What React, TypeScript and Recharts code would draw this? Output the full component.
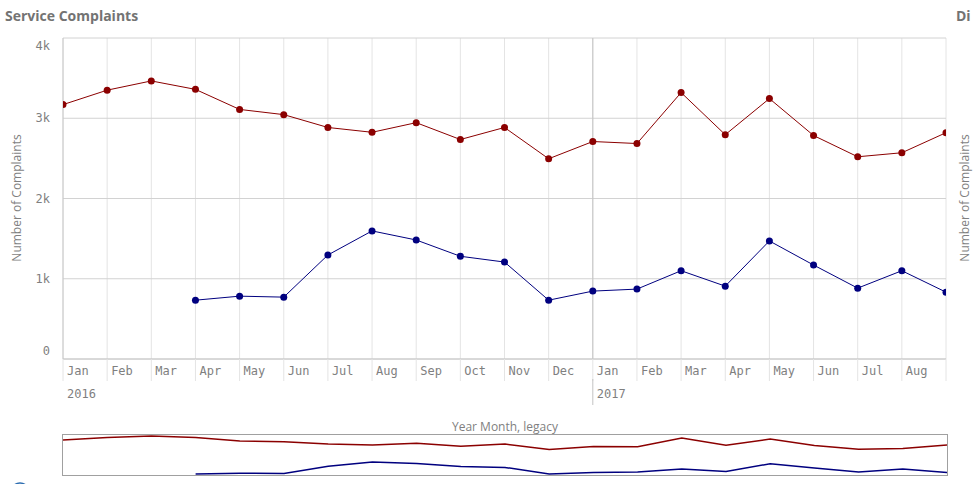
import React from "react";
import { LineChart, Line, XAxis, YAxis, CartesianGrid, ReferenceLine } from "recharts";

// Jan 2016 .. Sep 2017 (Sep has no label, it sits on the right edge)
const MONTHS = [
  "Jan", "Feb", "Mar", "Apr", "May", "Jun", "Jul", "Aug", "Sep", "Oct", "Nov", "Dec",
  "Jan", "Feb", "Mar", "Apr", "May", "Jun", "Jul", "Aug", "Sep",
];
const YEARS = [
  "2016", "2016", "2016", "2016", "2016", "2016", "2016", "2016", "2016", "2016", "2016", "2016",
  "2017", "2017", "2017", "2017", "2017", "2017", "2017", "2017", "2017",
];
const RED_SERIES = [
  3170, 3350, 3465, 3360, 3110, 3045, 2885, 2825, 2945, 2735, 2885, 2495,
  2710, 2685, 3320, 2795, 3245, 2785, 2520, 2570, 2820,
];
const BLUE_SERIES: (number | null)[] = [
  null, null, null, 733, 783, 771, 1296, 1596, 1483, 1280, 1208, 733,
  846, 871, 1100, 908, 1471, 1171, 883, 1100, 833,
];
const Y_TICKS = [0, 1000, 2000, 3000, 4000];
const LAST_INDEX = MONTHS.length - 1;
const X_TICKS = MONTHS.map((_, i) => i);

const data = MONTHS.map((m, i) => ({
  i,
  month: m,
  year: YEARS[i],
  red: RED_SERIES[i],
  blue: BLUE_SERIES[i],
}));

const RED = "#8b0000";
const BLUE = "#00007f";
const TEXT_GREY = "#7f7f7f";
const TITLE_GREY = "#737373";
const FONT = "'Open Sans', 'DejaVu Sans', sans-serif";
const TICK_FONT = "'DejaVu Sans Mono', monospace";

function XTick(props: any) {
  const { x, y, payload } = props;
  const i = payload.value as number;
  const label = i < LAST_INDEX ? MONTHS[i] : "";
  const yearStart = MONTHS[i] === "Jan";
  return (
    <g>
      {yearStart && i > 0 && (
        <line x1={x} x2={x} y1={y - 2} y2={y + 24} stroke="#c4c4c4" />
      )}
      <text
        x={x + 4}
        y={y - 10}
        fill={TEXT_GREY}
        fontSize={12}
        fontFamily={TICK_FONT}
        dominantBaseline="central"
      >
        {label}
      </text>
      {yearStart && (
        <text
          x={x + 4}
          y={y + 13}
          fill={TEXT_GREY}
          fontSize={12}
          fontFamily={TICK_FONT}
          dominantBaseline="central"
        >
          {YEARS[i]}
        </text>
      )}
    </g>
  );
}

function YTick(props: any) {
  const { y, payload } = props;
  const v = payload.value as number;
  const shift = v === 4000 ? 8 : v === 0 ? -8 : 0;
  return (
    <text
      x={50}
      y={y + shift}
      textAnchor="end"
      fill={TEXT_GREY}
      fontSize={12}
      fontFamily={TICK_FONT}
      dominantBaseline="central"
    >
      {v === 0 ? "0" : `${v / 1000}k`}
    </text>
  );
}

export default function App() {
  return (
    <div
      style={{
        position: "absolute",
        left: 0,
        top: 0,
        width: 973,
        height: 484,
        overflow: "hidden",
        background: "#fff",
        fontFamily: FONT,
      }}
    >
      <div
        style={{
          position: "absolute",
          left: 5,
          top: 6,
          fontSize: 14,
          fontWeight: 700,
          color: TITLE_GREY,
          whiteSpace: "nowrap",
        }}
      >
        Service Complaints
      </div>
      <div
        style={{
          position: "absolute",
          left: 956,
          top: 6,
          fontSize: 14,
          fontWeight: 700,
          color: TITLE_GREY,
          whiteSpace: "nowrap",
        }}
      >
        Di
      </div>

      <svg width={973} height={484} style={{ position: "absolute", left: 0, top: 0 }}>
        <text
          transform="translate(16,198) rotate(-90)"
          textAnchor="middle"
          dominantBaseline="central"
          fontSize={12}
          fill={TEXT_GREY}
          fontFamily={FONT}
        >
          Number of Complaints
        </text>
        <text
          transform="translate(964,198) rotate(-90)"
          textAnchor="middle"
          dominantBaseline="central"
          fontSize={12}
          fill={TEXT_GREY}
          fontFamily={FONT}
        >
          Number of Complaints
        </text>
        <text
          x={505}
          y={426}
          textAnchor="middle"
          dominantBaseline="central"
          fontSize={12}
          fill={TEXT_GREY}
          fontFamily={FONT}
        >
          Year Month, legacy
        </text>
        <circle cx={20} cy={492} r={9} fill="none" stroke="#2b6cb0" strokeWidth={1.5} />
      </svg>

      {/* main chart */}
      <div style={{ position: "absolute", left: 0, top: 0 }}>
        <LineChart
          width={973}
          height={420}
          data={data}
          margin={{ top: 38, right: 27, bottom: 0, left: 0 }}
        >
          <CartesianGrid horizontal={false} stroke="#e4e4e4" />
          <CartesianGrid vertical={false} stroke="#d2d2d2" />
          <XAxis
            type="number"
            dataKey="i"
            domain={[0, LAST_INDEX]}
            ticks={X_TICKS}
            interval={0}
            allowDataOverflow
            height={61}
            tickSize={22}
            tickMargin={0}
            tickLine={{ stroke: "#e4e4e4" }}
            axisLine={{ stroke: "#c8c8c8" }}
            tick={<XTick />}
          />
          <YAxis
            type="number"
            domain={[0, 4000]}
            ticks={Y_TICKS}
            width={63}
            tickLine={false}
            axisLine={{ stroke: "#c8c8c8" }}
            tick={<YTick />}
          />
          <ReferenceLine x={12} stroke="#c4c4c4" />
          <Line
            dataKey="red"
            stroke={RED}
            strokeWidth={1}
            dot={{ r: 3.5, fill: RED, stroke: "none" }}
            isAnimationActive={false}
          />
          <Line
            dataKey="blue"
            stroke={BLUE}
            strokeWidth={1}
            dot={{ r: 3.5, fill: BLUE, stroke: "none" }}
            isAnimationActive={false}
          />
        </LineChart>
      </div>

      {/* mini navigator chart */}
      <div
        style={{
          position: "absolute",
          left: 62,
          top: 434,
          width: 884,
          height: 40,
          border: "1px solid #a0a0a0",
        }}
      >
        <LineChart
          width={884}
          height={40}
          data={data}
          margin={{ top: 1, right: 0, bottom: 1, left: 0 }}
        >
          <XAxis type="number" dataKey="i" domain={[0, LAST_INDEX]} hide />
          <YAxis type="number" domain={["dataMin", "dataMax"]} hide />
          <Line
            dataKey="red"
            stroke={RED}
            strokeWidth={1.5}
            dot={false}
            isAnimationActive={false}
          />
          <Line
            dataKey="blue"
            stroke={BLUE}
            strokeWidth={1.5}
            dot={false}
            isAnimationActive={false}
          />
        </LineChart>
      </div>
    </div>
  );
}
